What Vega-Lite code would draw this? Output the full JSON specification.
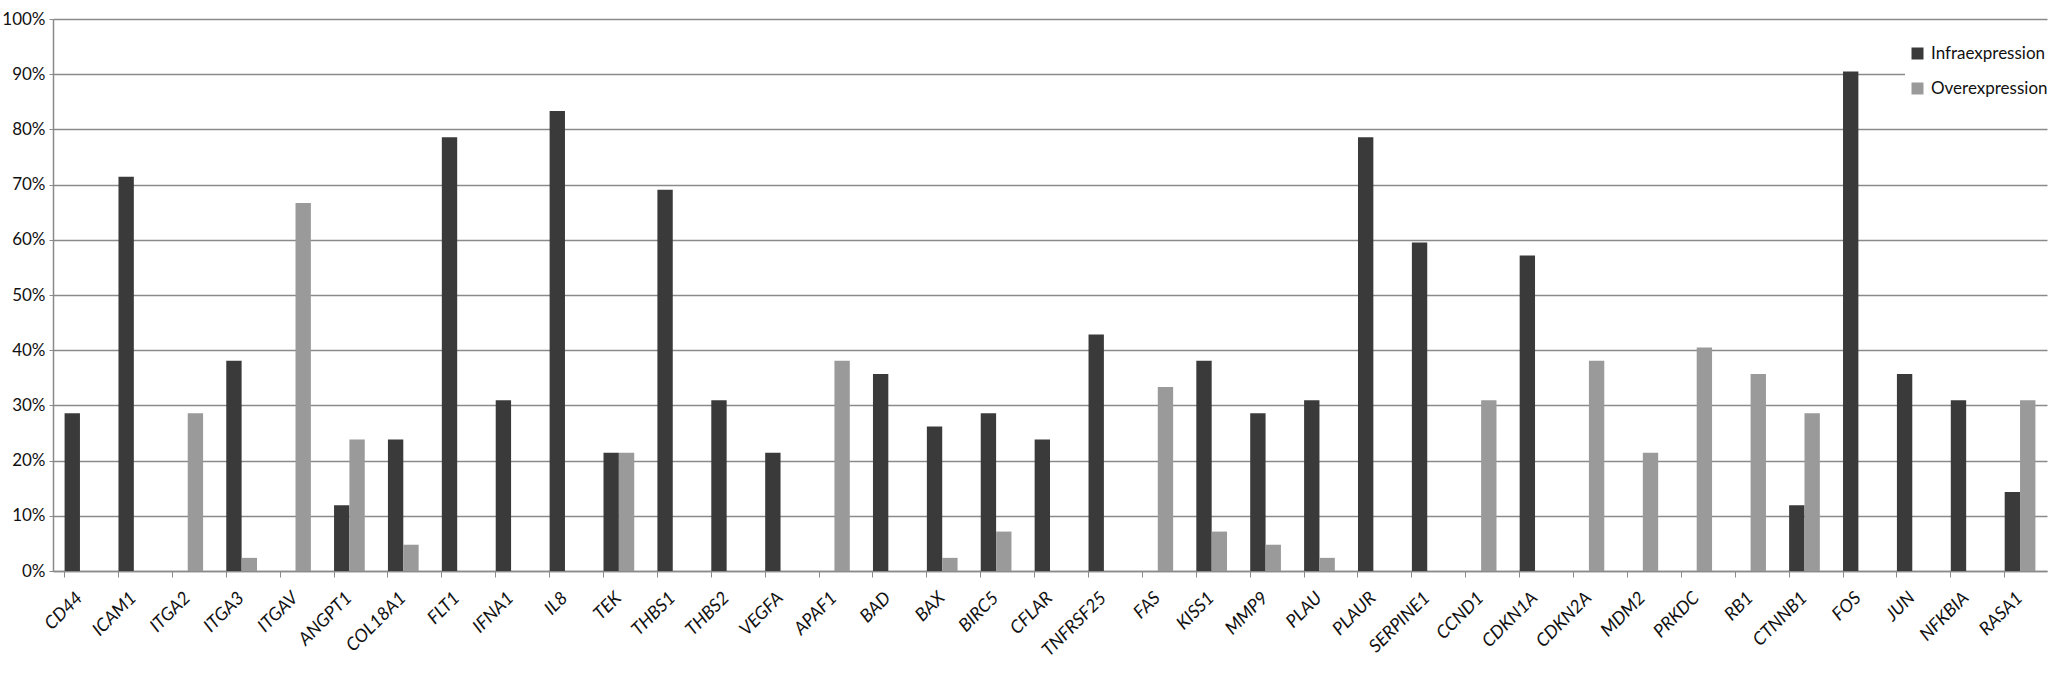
{
  "$schema": "https://vega.github.io/schema/vega-lite/v6.json",
  "width": 1994,
  "height": 552,
  "autosize": {"type": "none"},
  "padding": {"left": 53, "top": 19, "right": 3, "bottom": 102},
  "background": "white",
  "config": {
    "view": {"stroke": null},
    "font": "Lato"
  },
  "data": {
    "values": [
      {"gene": "CD44", "type": "Infraexpression", "pct": 28.57},
      {"gene": "ICAM1", "type": "Infraexpression", "pct": 71.43},
      {"gene": "ITGA2", "type": "Overexpression", "pct": 28.57},
      {"gene": "ITGA3", "type": "Infraexpression", "pct": 38.1},
      {"gene": "ITGA3", "type": "Overexpression", "pct": 2.38},
      {"gene": "ITGAV", "type": "Overexpression", "pct": 66.67},
      {"gene": "ANGPT1", "type": "Infraexpression", "pct": 11.9},
      {"gene": "ANGPT1", "type": "Overexpression", "pct": 23.81},
      {"gene": "COL18A1", "type": "Infraexpression", "pct": 23.81},
      {"gene": "COL18A1", "type": "Overexpression", "pct": 4.76},
      {"gene": "FLT1", "type": "Infraexpression", "pct": 78.57},
      {"gene": "IFNA1", "type": "Infraexpression", "pct": 30.95},
      {"gene": "IL8", "type": "Infraexpression", "pct": 83.33},
      {"gene": "TEK", "type": "Infraexpression", "pct": 21.43},
      {"gene": "TEK", "type": "Overexpression", "pct": 21.43},
      {"gene": "THBS1", "type": "Infraexpression", "pct": 69.05},
      {"gene": "THBS2", "type": "Infraexpression", "pct": 30.95},
      {"gene": "VEGFA", "type": "Infraexpression", "pct": 21.43},
      {"gene": "APAF1", "type": "Overexpression", "pct": 38.1},
      {"gene": "BAD", "type": "Infraexpression", "pct": 35.71},
      {"gene": "BAX", "type": "Infraexpression", "pct": 26.19},
      {"gene": "BAX", "type": "Overexpression", "pct": 2.38},
      {"gene": "BIRC5", "type": "Infraexpression", "pct": 28.57},
      {"gene": "BIRC5", "type": "Overexpression", "pct": 7.14},
      {"gene": "CFLAR", "type": "Infraexpression", "pct": 23.81},
      {"gene": "TNFRSF25", "type": "Infraexpression", "pct": 42.86},
      {"gene": "FAS", "type": "Overexpression", "pct": 33.33},
      {"gene": "KISS1", "type": "Infraexpression", "pct": 38.1},
      {"gene": "KISS1", "type": "Overexpression", "pct": 7.14},
      {"gene": "MMP9", "type": "Infraexpression", "pct": 28.57},
      {"gene": "MMP9", "type": "Overexpression", "pct": 4.76},
      {"gene": "PLAU", "type": "Infraexpression", "pct": 30.95},
      {"gene": "PLAU", "type": "Overexpression", "pct": 2.38},
      {"gene": "PLAUR", "type": "Infraexpression", "pct": 78.57},
      {"gene": "SERPINE1", "type": "Infraexpression", "pct": 59.52},
      {"gene": "CCND1", "type": "Overexpression", "pct": 30.95},
      {"gene": "CDKN1A", "type": "Infraexpression", "pct": 57.14},
      {"gene": "CDKN2A", "type": "Overexpression", "pct": 38.1},
      {"gene": "MDM2", "type": "Overexpression", "pct": 21.43},
      {"gene": "PRKDC", "type": "Overexpression", "pct": 40.48},
      {"gene": "RB1", "type": "Overexpression", "pct": 35.71},
      {"gene": "CTNNB1", "type": "Infraexpression", "pct": 11.9},
      {"gene": "CTNNB1", "type": "Overexpression", "pct": 28.57},
      {"gene": "FOS", "type": "Infraexpression", "pct": 90.48},
      {"gene": "JUN", "type": "Infraexpression", "pct": 35.71},
      {"gene": "NFKBIA", "type": "Infraexpression", "pct": 30.95},
      {"gene": "RASA1", "type": "Infraexpression", "pct": 14.29},
      {"gene": "RASA1", "type": "Overexpression", "pct": 30.95}
    ]
  },
  "mark": {"type": "bar"},
  "encoding": {
    "x": {
      "field": "gene",
      "type": "nominal",
      "sort": ["CD44","ICAM1","ITGA2","ITGA3","ITGAV","ANGPT1","COL18A1","FLT1","IFNA1","IL8","TEK","THBS1","THBS2","VEGFA","APAF1","BAD","BAX","BIRC5","CFLAR","TNFRSF25","FAS","KISS1","MMP9","PLAU","PLAUR","SERPINE1","CCND1","CDKN1A","CDKN2A","MDM2","PRKDC","RB1","CTNNB1","FOS","JUN","NFKBIA","RASA1"],
      "scale": {"paddingInner": 0.43, "paddingOuter": 0.215},
      "axis": {
        "title": null,
        "labelAngle": -45,
        "labelAlign": "right",
        "labelBaseline": "middle",
        "labelFont": "Lato",
        "labelFontStyle": "italic",
        "labelFontSize": 18,
        "labelColor": "#111111",
        "labelPadding": 18,
        "labelOffset": 0,
        "bandPosition": 0,
        "tickSize": 6,
        "tickColor": "#8a8a8a",
        "domainColor": "#8a8a8a",
        "domainWidth": 1.5,
        "grid": false
      }
    },
    "xOffset": {
      "field": "type",
      "type": "nominal",
      "scale": {"domain": ["Infraexpression", "Overexpression"], "paddingInner": 0, "paddingOuter": 0}
    },
    "y": {
      "field": "pct",
      "type": "quantitative",
      "scale": {"domain": [0, 100], "nice": false},
      "axis": {
        "title": null,
        "values": [0,10,20,30,40,50,60,70,80,90,100],
        "labelExpr": "datum.value + '%'",
        "labelFont": "Lato",
        "labelFontSize": 17,
        "labelColor": "#111111",
        "labelPadding": 4,
        "tickSize": 4,
        "tickColor": "#8a8a8a",
        "domainColor": "#8a8a8a",
        "domainWidth": 1.5,
        "grid": true,
        "gridColor": "#8a8a8a",
        "gridWidth": 1.5
      }
    },
    "color": {
      "field": "type",
      "type": "nominal",
      "scale": {"domain": ["Infraexpression", "Overexpression"], "range": ["#3a3a3a", "#9a9a9a"]},
      "legend": {
        "title": null,
        "orient": "none",
        "legendX": 1852,
        "legendY": 22,
        "padding": 4,
        "fillColor": "white",
        "symbolType": "square",
        "symbolSize": 144,
        "symbolStrokeWidth": 0,
        "labelFont": "Lato",
        "labelFontSize": 17,
        "labelColor": "#111111",
        "labelOffset": 5,
        "rowPadding": 17
      }
    }
  }
}
